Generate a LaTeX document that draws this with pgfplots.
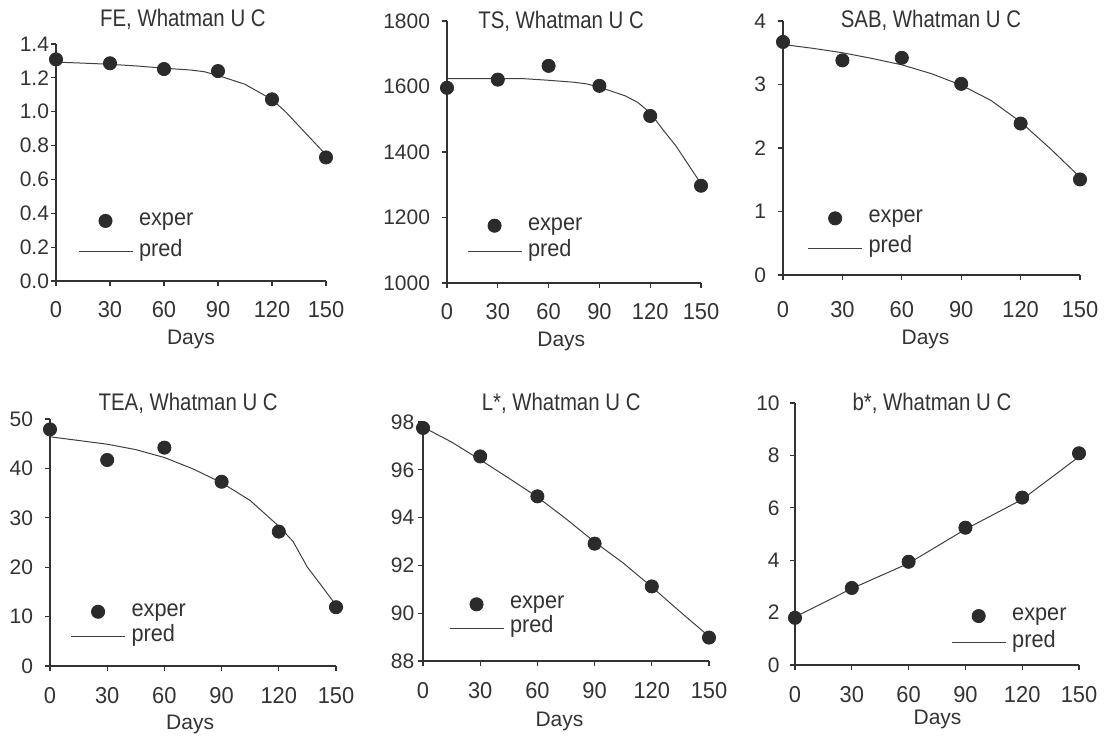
\documentclass[border=0pt]{standalone}
\usepackage{pgfplots}
\pgfplotsset{compat=1.18}
\usepackage{fontspec}
\setmainfont{Liberation Sans}
\newfontfamily\titlefont{Liberation Sans}[FakeStretch=0.85]
\newfontfamily\legfont{Liberation Sans}[FakeStretch=0.92]
\newfontfamily\xtfont{Liberation Sans}[FakeStretch=0.95]
\definecolor{txc}{HTML}{333333}
\definecolor{mkc}{HTML}{2B2B2B}
\definecolor{lnc}{HTML}{404040}
\definecolor{axc}{HTML}{333333}

\pgfplotsset{
 every axis title shift=0pt,
 panel/.style={
  scale only axis, axis x line=bottom, axis y line=left,
  axis line style={-, line width=0.6pt, draw=axc},
  xmin=0, xmax=150, xtick={0,30,60,90,120,150},
  enlargelimits=false, clip=false,
  tick align=outside, major tick length=2.5pt,
  tick style={line width=0.6pt, draw=axc},
  tick label style={text=txc, inner sep=0pt},
  /pgf/number format/assume math mode=true,
  /pgf/number format/set thousands separator={},
  xticklabel style={font=\xtfont\fontsize{11.5}{13}\selectfont, anchor=base, yshift=-16pt},
  yticklabel style={font=\fontsize{10.5}{12}\selectfont, anchor=east},
  xlabel={Days},
  xlabel style={font=\fontsize{10.5}{12}\selectfont, text=txc, anchor=base},
  title style={font=\titlefont\fontsize{12}{14}\selectfont, text=txc, anchor=base},
  legend cell align=left,
  legend style={draw=none, fill=none, inner sep=0pt, outer sep=0pt, column sep=3pt, anchor=west,
    nodes={inner sep=0pt, text height=7pt, text depth=2.5pt, font=\legfont\fontsize{11.8}{13}\selectfont, text=txc}},
 },
 exper/.style={only marks, mark=*, mark size=3.3pt, draw=mkc, fill=mkc,
   legend image code/.code={\draw[##1] plot coordinates {(13.5pt,0pt)};}},
 pred/.style={no marks, line width=0.5pt, draw=lnc,
   legend image code/.code={\draw[##1] (0pt,0pt) -- (27pt,0pt);}},
}

\begin{document}
\begin{tikzpicture}
\path[use as bounding box] (0,0) rectangle (553.5pt,369pt);

% FE
\begin{axis}[panel, at={(28pt,228.5pt)}, anchor=south west, width=135pt, height=118.5pt,
  ymin=0, ymax=1.4, ytick={0,0.2,0.4,0.6,0.8,1.0,1.2,1.4},
  yticklabel style={/pgf/number format/fixed, /pgf/number format/fixed zerofill, /pgf/number format/precision=1, xshift=-0.8pt},
  title={FE, Whatman U C}, title style={at={(axis description cs:0.47,1.073)}},
  xlabel style={at={(axis description cs:0.5,-0.270)}},
  legend style={at={(axis description cs:0.0815,0.188)}, row sep=6pt}]
\addplot[exper] coordinates {(0,1.309) (30,1.286) (60,1.252) (90,1.240) (120,1.073) (150,0.730)};
\addlegendentry{exper}
\addplot[pred] coordinates {(0,1.293) (15,1.287) (30,1.280) (45,1.270) (60,1.257) (75,1.246) (82.5,1.236) (90,1.214) (105,1.162) (120,1.072) (127.5,1.0) (150,0.745)};
\addlegendentry{pred}
\end{axis}

% TS
\begin{axis}[panel, at={(223.5pt,227.5pt)}, anchor=south west, width=127pt, height=131pt,
  ymin=1000, ymax=1800, ytick={1000,1200,1400,1600,1800},
  yticklabel style={xshift=-5.8pt},
  title={TS, Whatman U C}, title style={at={(axis description cs:0.449,0.972)}},
  xlabel style={at={(axis description cs:0.45,-0.243)}},
  legend style={at={(axis description cs:0.079,0.169)}, row sep=3.5pt}]
\addplot[exper] coordinates {(0,1596) (30,1621) (60,1663) (90,1602) (120,1510) (150,1297)};
\addlegendentry{exper}
\addplot[pred] coordinates {(0,1624) (45,1624) (60,1619) (75,1613) (82.5,1608) (90,1598) (105,1572) (112.5,1552) (120,1520) (127.5,1468) (135,1420) (150,1303)};
\addlegendentry{pred}
\end{axis}

% SAB
\begin{axis}[panel, at={(391.5pt,231.5pt)}, anchor=south west, width=148.5pt, height=127pt,
  ymin=0, ymax=4, ytick={0,1,2,3,4},
  yticklabel style={xshift=-5.8pt},
  xticklabel style={yshift=-3pt},
  title={SAB, Whatman U C}, title style={at={(axis description cs:0.498,0.974)}},
  xlabel style={at={(axis description cs:0.48,-0.273)}},
  legend style={at={(axis description cs:0.083,0.164)}, row sep=5.5pt}]
\addplot[exper] coordinates {(0,3.67) (30,3.38) (60,3.42) (90,3.01) (120,2.385) (150,1.505)};
\addlegendentry{exper}
\addplot[pred] coordinates {(0,3.63) (15,3.57) (30,3.50) (45,3.41) (60,3.31) (75,3.17) (90,2.99) (105,2.75) (120,2.41) (135,1.99) (150,1.54)};
\addlegendentry{pred}
\end{axis}

% TEA
\begin{axis}[panel, at={(25pt,36pt)}, anchor=south west, width=143pt, height=123.5pt,
  ymin=0, ymax=50, ytick={0,10,20,30,40,50},
  yticklabel style={xshift=-5.8pt},
  title={TEA, Whatman U C}, title style={at={(axis description cs:0.483,1.036)}},
  xlabel style={at={(axis description cs:0.49,-0.259)}},
  legend style={at={(axis description cs:0.072,0.169)}, row sep=3pt}]
\addplot[exper] coordinates {(0,47.9) (30,41.7) (60,44.2) (90,37.3) (120,27.2) (150,11.9)};
\addlegendentry{exper}
\addplot[pred] coordinates {(0,46.4) (30,44.9) (45,43.8) (60,42.2) (75,39.9) (90,37.1) (105,33.5) (120,28.3) (127.5,25.2) (135,20.0) (142.5,16.2) (150,12.3)};
\addlegendentry{pred}
\end{axis}

% L*
\begin{axis}[panel, at={(211.5pt,38.5pt)}, anchor=south west, width=143pt, height=119.5pt,
  ymin=88, ymax=98, ytick={88,90,92,94,96,98},
  yticklabel style={xshift=-1.7pt},
  title={L*, Whatman U C}, title style={at={(axis description cs:0.483,1.050)}},
  xlabel style={at={(axis description cs:0.477,-0.275)}},
  legend style={at={(axis description cs:0.091,0.187)}, row sep=2.5pt}]
\addplot[exper] coordinates {(0,97.75) (30,96.56) (60,94.89) (90,92.91) (120,91.12) (150,88.98)};
\addlegendentry{exper}
\addplot[pred] coordinates {(0,97.79) (15,97.16) (30,96.42) (45,95.65) (60,94.86) (75,93.95) (90,92.98) (105,92.10) (120,91.10) (135,90.05) (150,89.03)};
\addlegendentry{pred}
\end{axis}

% b*
\begin{axis}[panel, at={(397.5pt,36.5pt)}, anchor=south west, width=142pt, height=131pt,
  ymin=0, ymax=10, ytick={0,2,4,6,8,10},
  yticklabel style={xshift=-5pt},
  title={b*, Whatman U C}, title style={at={(axis description cs:0.482,0.971)}},
  xlabel style={at={(axis description cs:0.502,-0.226)}},
  legend style={at={(axis description cs:0.55,0.136)}, row sep=3.8pt}]
\addplot[exper] coordinates {(0,1.80) (30,2.94) (60,3.94) (90,5.24) (120,6.39) (150,8.08)};
\addlegendentry{exper}
\addplot[pred] coordinates {(0,1.83) (30,2.92) (60,3.88) (90,5.18) (120,6.32) (150,7.95)};
\addlegendentry{pred}
\end{axis}
\end{tikzpicture}
\end{document}
